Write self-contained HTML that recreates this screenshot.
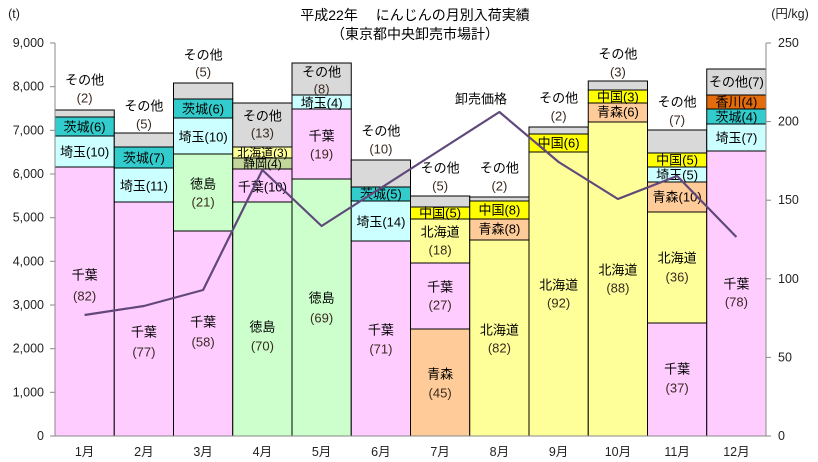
<!DOCTYPE html>
<html><head><meta charset="utf-8"><style>
html,body{margin:0;padding:0;background:#fff}
svg{display:block}
text{font-family:"Liberation Sans","Noto Sans CJK JP",sans-serif;font-size:13px;fill:#000}
.n{fill:#3a2a20}
.c{text-anchor:middle;dominant-baseline:central}
.ax{font-size:12.5px;fill:#222}
</style></head><body>
<svg width="818" height="462" viewBox="0 0 818 462" xmlns="http://www.w3.org/2000/svg">
<text x="415" y="15" class="c" style="font-size:14px">平成22年　 にんじんの月別入荷実績</text>
<text x="415" y="34" class="c" style="font-size:14px">（東京都中央卸売市場計）</text>
<text x="14" y="14" class="c ax">(t)</text>
<text x="790" y="14" class="c ax">(円/kg)</text>

<g stroke="#000" stroke-width="1">
<!-- Bar1 -->
<rect x="55" y="167" width="59.25" height="269" fill="#FFCCFF"/>
<rect x="55" y="136" width="59.25" height="31" fill="#CCFFFF"/>
<rect x="55" y="117" width="59.25" height="19" fill="#33CCCC"/>
<rect x="55" y="110" width="59.25" height="7" fill="#D9D9D9"/>
<!-- Bar2 -->
<rect x="114.25" y="202" width="59.25" height="234" fill="#FFCCFF"/>
<rect x="114.25" y="168" width="59.25" height="34" fill="#CCFFFF"/>
<rect x="114.25" y="147" width="59.25" height="21" fill="#33CCCC"/>
<rect x="114.25" y="133" width="59.25" height="14" fill="#D9D9D9"/>
<!-- Bar3 -->
<rect x="173.5" y="231" width="59.25" height="205" fill="#FFCCFF"/>
<rect x="173.5" y="154" width="59.25" height="77" fill="#CCFFCC"/>
<rect x="173.5" y="118" width="59.25" height="36" fill="#CCFFFF"/>
<rect x="173.5" y="99" width="59.25" height="19" fill="#33CCCC"/>
<rect x="173.5" y="83" width="59.25" height="16" fill="#D9D9D9"/>
<!-- Bar4 -->
<rect x="232.75" y="202" width="59.25" height="234" fill="#CCFFCC"/>
<rect x="232.75" y="169" width="59.25" height="33" fill="#FFCCFF"/>
<rect x="232.75" y="158" width="59.25" height="11" fill="#C4D79B"/>
<rect x="232.75" y="147" width="59.25" height="11" fill="#FFFF99"/>
<rect x="232.75" y="103" width="59.25" height="44" fill="#D9D9D9"/>
<!-- Bar5 -->
<rect x="292" y="179" width="59.25" height="257" fill="#CCFFCC"/>
<rect x="292" y="109" width="59.25" height="70" fill="#FFCCFF"/>
<rect x="292" y="95" width="59.25" height="14" fill="#CCFFFF"/>
<rect x="292" y="63" width="59.25" height="32" fill="#D9D9D9"/>
<!-- Bar6 -->
<rect x="351.25" y="241" width="59.25" height="195" fill="#FFCCFF"/>
<rect x="351.25" y="201" width="59.25" height="40" fill="#CCFFFF"/>
<rect x="351.25" y="187" width="59.25" height="14" fill="#33CCCC"/>
<rect x="351.25" y="160" width="59.25" height="27" fill="#D9D9D9"/>
<!-- Bar7 -->
<rect x="410.5" y="329" width="59.25" height="107" fill="#FFCC99"/>
<rect x="410.5" y="263" width="59.25" height="66" fill="#FFCCFF"/>
<rect x="410.5" y="219" width="59.25" height="44" fill="#FFFF99"/>
<rect x="410.5" y="207" width="59.25" height="12" fill="#FFFF00"/>
<rect x="410.5" y="196" width="59.25" height="11" fill="#D9D9D9"/>
<!-- Bar8 -->
<rect x="469.75" y="240" width="59.25" height="196" fill="#FFFF99"/>
<rect x="469.75" y="219" width="59.25" height="21" fill="#FFCC99"/>
<rect x="469.75" y="201" width="59.25" height="18" fill="#FFFF00"/>
<rect x="469.75" y="197" width="59.25" height="4" fill="#D9D9D9"/>
<!-- Bar9 -->
<rect x="529" y="152" width="59.25" height="284" fill="#FFFF99"/>
<rect x="529" y="134" width="59.25" height="18" fill="#FFFF00"/>
<rect x="529" y="127" width="59.25" height="7" fill="#D9D9D9"/>
<!-- Bar10 -->
<rect x="588.25" y="122" width="59.25" height="314" fill="#FFFF99"/>
<rect x="588.25" y="103" width="59.25" height="19" fill="#FFCC99"/>
<rect x="588.25" y="90" width="59.25" height="13" fill="#FFFF00"/>
<rect x="588.25" y="81" width="59.25" height="9" fill="#D9D9D9"/>
<!-- Bar11 -->
<rect x="647.5" y="323" width="59.25" height="113" fill="#FFCCFF"/>
<rect x="647.5" y="212" width="59.25" height="111" fill="#FFFF99"/>
<rect x="647.5" y="182" width="59.25" height="30" fill="#FFCC99"/>
<rect x="647.5" y="167" width="59.25" height="15" fill="#CCFFFF"/>
<rect x="647.5" y="153" width="59.25" height="14" fill="#FFFF00"/>
<rect x="647.5" y="130" width="59.25" height="23" fill="#D9D9D9"/>
<!-- Bar12 -->
<rect x="706.75" y="151" width="59.25" height="285" fill="#FFCCFF"/>
<rect x="706.75" y="124" width="59.25" height="27" fill="#CCFFFF"/>
<rect x="706.75" y="109" width="59.25" height="15" fill="#33CCCC"/>
<rect x="706.75" y="95" width="59.25" height="14" fill="#E46C0A"/>
<rect x="706.75" y="69" width="59.25" height="26" fill="#D9D9D9"/>
</g>

<!-- axes -->
<g stroke="#888" stroke-width="1">
<line x1="55" y1="43" x2="55" y2="436"/>
<line x1="766" y1="43" x2="766" y2="436"/>
<line x1="55" y1="436" x2="766" y2="436"/>
<line x1="50" y1="43" x2="55" y2="43"/><line x1="50" y1="86.7" x2="55" y2="86.7"/><line x1="50" y1="130.3" x2="55" y2="130.3"/><line x1="50" y1="174" x2="55" y2="174"/><line x1="50" y1="217.7" x2="55" y2="217.7"/><line x1="50" y1="261.3" x2="55" y2="261.3"/><line x1="50" y1="305" x2="55" y2="305"/><line x1="50" y1="348.7" x2="55" y2="348.7"/><line x1="50" y1="392.3" x2="55" y2="392.3"/><line x1="50" y1="436" x2="55" y2="436"/>
<line x1="766" y1="43" x2="771" y2="43"/><line x1="766" y1="121.6" x2="771" y2="121.6"/><line x1="766" y1="200.2" x2="771" y2="200.2"/><line x1="766" y1="278.8" x2="771" y2="278.8"/><line x1="766" y1="357.4" x2="771" y2="357.4"/><line x1="766" y1="436" x2="771" y2="436"/>
</g>
<g class="ax" style="text-anchor:end;dominant-baseline:central">
<text x="44" y="43" class="ax" style="text-anchor:end;dominant-baseline:central">9,000</text>
<text x="44" y="86.7" class="ax" style="text-anchor:end;dominant-baseline:central">8,000</text>
<text x="44" y="130.3" class="ax" style="text-anchor:end;dominant-baseline:central">7,000</text>
<text x="44" y="174" class="ax" style="text-anchor:end;dominant-baseline:central">6,000</text>
<text x="44" y="217.7" class="ax" style="text-anchor:end;dominant-baseline:central">5,000</text>
<text x="44" y="261.3" class="ax" style="text-anchor:end;dominant-baseline:central">4,000</text>
<text x="44" y="305" class="ax" style="text-anchor:end;dominant-baseline:central">3,000</text>
<text x="44" y="348.7" class="ax" style="text-anchor:end;dominant-baseline:central">2,000</text>
<text x="44" y="392.3" class="ax" style="text-anchor:end;dominant-baseline:central">1,000</text>
<text x="44" y="436" class="ax" style="text-anchor:end;dominant-baseline:central">0</text>
</g>
<text x="778" y="43" class="ax" style="dominant-baseline:central">250</text>
<text x="778" y="121.6" class="ax" style="dominant-baseline:central">200</text>
<text x="778" y="200.2" class="ax" style="dominant-baseline:central">150</text>
<text x="778" y="278.8" class="ax" style="dominant-baseline:central">100</text>
<text x="778" y="357.4" class="ax" style="dominant-baseline:central">50</text>
<text x="778" y="436" class="ax" style="dominant-baseline:central">0</text>

<text x="84.6" y="452" class="c ax">1月</text>
<text x="143.9" y="452" class="c ax">2月</text>
<text x="203.1" y="452" class="c ax">3月</text>
<text x="262.4" y="452" class="c ax">4月</text>
<text x="321.6" y="452" class="c ax">5月</text>
<text x="380.9" y="452" class="c ax">6月</text>
<text x="440.1" y="452" class="c ax">7月</text>
<text x="499.4" y="452" class="c ax">8月</text>
<text x="558.6" y="452" class="c ax">9月</text>
<text x="617.9" y="452" class="c ax">10月</text>
<text x="677.1" y="452" class="c ax">11月</text>
<text x="736.4" y="452" class="c ax">12月</text>

<!-- labels -->
<g>
<text x="84.6" y="275" class="c">千葉</text><text x="84.6" y="296" class="c n">(82)</text>
<text x="84.6" y="152" class="c">埼玉(10)</text>
<text x="84.6" y="127" class="c">茨城(6)</text>
<text x="84.6" y="80" class="c">その他</text><text x="84.6" y="98" class="c n">(2)</text>

<text x="143.9" y="332" class="c">千葉</text><text x="143.9" y="352" class="c n">(77)</text>
<text x="143.9" y="186" class="c">埼玉(11)</text>
<text x="143.9" y="158" class="c">茨城(7)</text>
<text x="143.9" y="106" class="c">その他</text><text x="143.9" y="124" class="c n">(5)</text>

<text x="203.1" y="322" class="c">千葉</text><text x="203.1" y="342" class="c n">(58)</text>
<text x="203.1" y="184" class="c">徳島</text><text x="203.1" y="202" class="c n">(21)</text>
<text x="203.1" y="137" class="c">埼玉(10)</text>
<text x="203.1" y="109" class="c">茨城(6)</text>
<text x="203.1" y="55" class="c">その他</text><text x="203.1" y="72" class="c n">(5)</text>

<text x="262.4" y="327" class="c">徳島</text><text x="262.4" y="346" class="c n">(70)</text>
<text x="262.4" y="187" class="c">千葉(10)</text>
<text x="262.4" y="164" class="c" style="font-size:12px">静岡(4)</text>
<text x="262.4" y="153" class="c" style="font-size:12px">北海道(3)</text>
<text x="262.4" y="116" class="c">その他</text><text x="262.4" y="133" class="c n">(13)</text>

<text x="321.6" y="298" class="c">徳島</text><text x="321.6" y="318" class="c n">(69)</text>
<text x="321.6" y="136" class="c">千葉</text><text x="321.6" y="154" class="c n">(19)</text>
<text x="321.6" y="103" class="c">埼玉(4)</text>
<text x="321.6" y="72" class="c">その他</text><text x="321.6" y="89" class="c n">(8)</text>

<text x="380.9" y="330" class="c">千葉</text><text x="380.9" y="349" class="c n">(71)</text>
<text x="380.9" y="222" class="c">埼玉(14)</text>
<text x="380.9" y="194" class="c">茨城(5)</text>
<text x="380.9" y="131" class="c">その他</text><text x="380.9" y="149" class="c n">(10)</text>

<text x="440.1" y="374" class="c">青森</text><text x="440.1" y="393" class="c n">(45)</text>
<text x="440.1" y="287" class="c">千葉</text><text x="440.1" y="305" class="c n">(27)</text>
<text x="440.1" y="232" class="c">北海道</text><text x="440.1" y="250" class="c n">(18)</text>
<text x="440.1" y="213" class="c">中国(5)</text>
<text x="440.1" y="168" class="c">その他</text><text x="440.1" y="186" class="c n">(5)</text>

<text x="499.4" y="330" class="c">北海道</text><text x="499.4" y="348" class="c n">(82)</text>
<text x="499.4" y="229" class="c">青森(8)</text>
<text x="499.4" y="210" class="c">中国(8)</text>
<text x="499.4" y="168" class="c">その他</text><text x="499.4" y="186" class="c n">(2)</text>

<text x="558.6" y="285" class="c">北海道</text><text x="558.6" y="303" class="c n">(92)</text>
<text x="558.6" y="143" class="c">中国(6)</text>
<text x="558.6" y="98" class="c">その他</text><text x="558.6" y="116" class="c n">(2)</text>

<text x="617.9" y="270" class="c">北海道</text><text x="617.9" y="288" class="c n">(88)</text>
<text x="617.9" y="112" class="c">青森(6)</text>
<text x="617.9" y="97" class="c">中国(3)</text>
<text x="617.9" y="54" class="c">その他</text><text x="617.9" y="72" class="c n">(3)</text>

<text x="677.1" y="369" class="c">千葉</text><text x="677.1" y="388" class="c n">(37)</text>
<text x="677.1" y="258" class="c">北海道</text><text x="677.1" y="277" class="c n">(36)</text>
<text x="677.1" y="197" class="c">青森(10)</text>
<text x="677.1" y="175" class="c">埼玉(5)</text>
<text x="677.1" y="160" class="c">中国(5)</text>
<text x="677.1" y="102" class="c">その他</text><text x="677.1" y="120" class="c n">(7)</text>

<text x="736.4" y="284" class="c">千葉</text><text x="736.4" y="302" class="c n">(78)</text>
<text x="736.4" y="138" class="c">埼玉(7)</text>
<text x="736.4" y="117" class="c">茨城(4)</text>
<text x="736.4" y="102" class="c">香川(4)</text>
<text x="736.4" y="82" class="c">その他(7)</text>
</g>

<polyline fill="none" stroke="#60497A" stroke-width="2.2" stroke-linejoin="round"
points="84.6,315 143.9,306 203.1,290 262.4,170 321.6,226 380.9,188 440.1,150 499.4,112 558.6,162 617.9,199 677.1,176 736.4,237"/>
<text x="481" y="99" class="c">卸売価格</text>
</svg>
</body></html>
